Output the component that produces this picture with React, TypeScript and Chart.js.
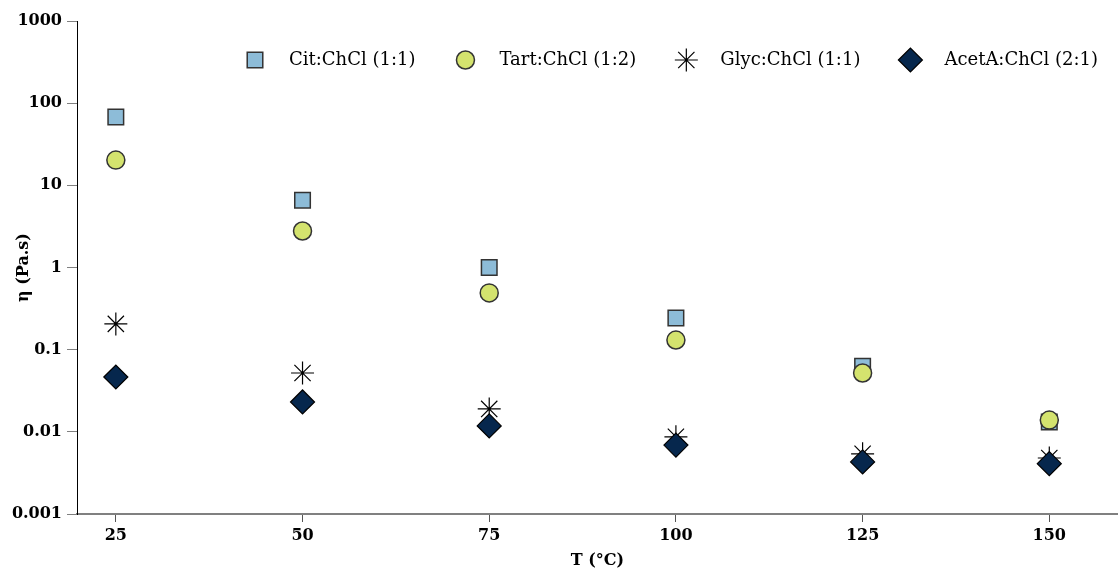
import React, { useEffect, useRef } from "react";
import { Chart, registerables } from "chart.js";
import { drawPoint } from "chart.js/helpers";

Chart.register(...registerables);

const temperatures = [25, 50, 75, 100, 125, 150];
const citChCl = [68, 6.6, 1.0, 0.243, 0.063, 0.0132];
const tartChCl = [20.3, 2.78, 0.49, 0.131, 0.052, 0.0139];
const glycChCl = [0.206, 0.052, 0.019, 0.0087, 0.0054, 0.0048];
const acetAChCl = [0.0465, 0.0231, 0.0118, 0.0069, 0.0043, 0.0041];
const seriesLabels = ["Cit:ChCl (1:1)", "Tart:ChCl (1:2)", "Glyc:ChCl (1:1)", "AcetA:ChCl (2:1)"];
const xTicks = [25, 50, 75, 100, 125, 150];
const yTicks = [0.001, 0.01, 0.1, 1, 10, 100, 1000];
const yTickLabels = ["0.001", "0.01", "0.1", "1", "10", "100", "1000"];
const xTitle = "T (°C)";
const yTitle = "η (Pa.s)";

const FONT = "'DejaVu Serif', serif";

const toPoints = (vals: number[]) => temperatures.map((t, i) => ({ x: t, y: vals[i] }));

const legendPlugin = {
  id: "customLegend",
  afterDraw(chart: any) {
    const ctx = chart.ctx;
    ctx.save();
    ctx.font = `18px ${FONT}`;
    ctx.textBaseline = "middle";
    ctx.textAlign = "left";
    let x = 255;
    const y = 60;
    chart.data.datasets.forEach((ds: any) => {
      ctx.fillStyle = ds.backgroundColor;
      ctx.strokeStyle = ds.borderColor;
      ctx.lineWidth = ds.borderWidth;
      drawPoint(ctx, { pointStyle: ds.pointStyle, radius: ds.pointRadius, borderWidth: ds.borderWidth, rotation: 0 }, x, y);
      ctx.fillStyle = "#000";
      const tx = x + 34;
      ctx.fillText(ds.label, tx, y);
      const w = ctx.measureText(ds.label).width;
      x = tx + w + 50;
    });
    ctx.restore();
  },
};

export default function App() {
  const ref = useRef<HTMLCanvasElement | null>(null);
  useEffect(() => {
    if (!ref.current) return;
    const chart = new Chart(ref.current, {
      type: "scatter",
      data: {
        datasets: [
          {
            label: seriesLabels[0],
            data: toPoints(citChCl),
            pointStyle: "rect",
            pointRadius: 11,
            pointHoverRadius: 11,
            backgroundColor: "#8DBCD8",
            borderColor: "#333333",
            borderWidth: 1.5,
            order: 4,
          },
          {
            label: seriesLabels[1],
            data: toPoints(tartChCl),
            pointStyle: "circle",
            pointRadius: 9,
            pointHoverRadius: 9,
            backgroundColor: "#D4E36E",
            borderColor: "#333333",
            borderWidth: 1.5,
            order: 3,
          },
          {
            label: seriesLabels[2],
            data: toPoints(glycChCl),
            pointStyle: "star",
            pointRadius: 11.5,
            pointHoverRadius: 11.5,
            backgroundColor: "#000000",
            borderColor: "#000000",
            borderWidth: 1.2,
            order: 2,
          },
          {
            label: seriesLabels[3],
            data: toPoints(acetAChCl),
            pointStyle: "rectRot",
            pointRadius: 12,
            pointHoverRadius: 12,
            backgroundColor: "#06274D",
            borderColor: "#000000",
            borderWidth: 1.2,
            order: 1,
          },
        ],
      },
      options: {
        responsive: false,
        animation: false,
        layout: { autoPadding: false, padding: { top: 21, left: 0, right: 0, bottom: 0 } },
        plugins: { legend: { display: false }, tooltip: { enabled: false } },
        scales: {
          x: {
            type: "linear",
            min: 19.8,
            max: 159.2,
            afterBuildTicks: (s: any) => {
              s.ticks = xTicks.map((v) => ({ value: v }));
            },
            afterFit: (s: any) => {
              s.height = 56;
              s.paddingRight = 0;
              s.paddingLeft = 0;
            },
            border: { color: "#808080", width: 2 },
            grid: { display: true, drawOnChartArea: false, drawTicks: true, tickLength: 8, color: "#555555", lineWidth: 1 },
            ticks: { color: "#000", font: { family: FONT, size: 16, weight: "bold" }, padding: 4, maxRotation: 0, autoSkip: false },
            title: { display: true, text: xTitle, color: "#000", font: { family: FONT, size: 16, weight: "bold" }, padding: { top: 0, bottom: 0 } },
          },
          y: {
            type: "logarithmic",
            min: 0.001,
            max: 1000,
            afterBuildTicks: (s: any) => {
              s.ticks = yTicks.map((v) => ({ value: v }));
            },
            afterFit: (s: any) => {
              s.width = 77;
            },
            border: { color: "#000", width: 1 },
            grid: { display: true, drawOnChartArea: false, drawTicks: true, tickLength: 10, color: "#808080", lineWidth: 1 },
            ticks: {
              color: "#000",
              font: { family: FONT, size: 16, weight: "bold" },
              padding: 5,
              autoSkip: false,
              callback: (v: any) => {
                const i = yTicks.findIndex((t) => Math.abs(Math.log10(t) - Math.log10(v)) < 1e-6);
                return i >= 0 ? yTickLabels[i] : "";
              },
            },
            title: { display: true, text: yTitle, color: "#000", font: { family: FONT, size: 16, weight: "bold" }, padding: { top: 14, bottom: 0 } },
          },
        },
      },
      plugins: [legendPlugin],
    } as any);
    return () => chart.destroy();
  }, []);
  return (
    <div style={{ position: "absolute", left: 0, top: 0, width: 1118, height: 570, background: "#fff" }}>
      <canvas ref={ref} width={1118} height={570} style={{ display: "block" }} />
    </div>
  );
}
